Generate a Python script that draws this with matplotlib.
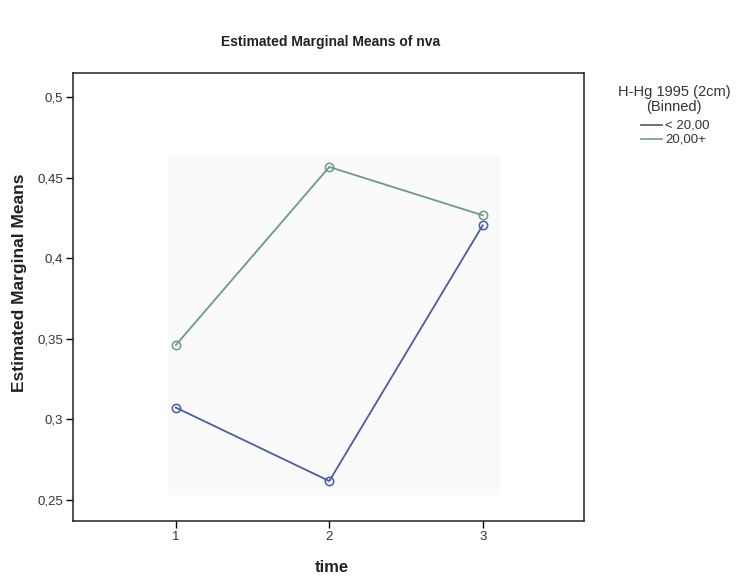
import numpy as np
import matplotlib
matplotlib.use("Agg")
import matplotlib.pyplot as plt
from matplotlib.lines import Line2D

plt.rcParams['font.family'] = ['Liberation Sans', 'DejaVu Sans']

# estimated marginal means of nva per time point
time = [1, 2, 3]
mean_low = [0.3074, 0.2618, 0.4205]    # H-Hg < 20,00
mean_high = [0.3462, 0.4567, 0.4267]   # H-Hg 20,00+
yticks = [0.25, 0.3, 0.35, 0.4, 0.45, 0.5]
ytick_labels = ['0,25', '0,3', '0,35', '0,4', '0,45', '0,5']
group_labels = ['< 20,00', '20,00+']

col_low = '#4a5ca6'
col_high = '#6b9c86'

fig = plt.figure(figsize=(7.43, 5.83), dpi=100)
ax = fig.add_axes([0.0983, 0.1063, 0.6877, 0.7685])

# faint backdrop behind the lines
ax.add_patch(plt.Rectangle((0.226, 0.151), 0.447, 0.583, transform=fig.transFigure,
                           facecolor='#fafafa', edgecolor='none', zorder=0))

ax.plot(time, mean_low, color=col_low, lw=1.3, marker='o', ms=6,
        mfc='none', mec=col_low, mew=1.1, zorder=3)
ax.plot(time, mean_high, color=col_high, lw=1.3, marker='o', ms=6,
        mfc='none', mec=col_high, mew=1.1, zorder=3)

ax.set_xlim(0.33, 3.66)
ax.set_ylim(0.237, 0.515)
ax.set_xticks(time)
ax.set_xticklabels([str(t) for t in time])
ax.set_yticks(yticks)
ax.set_yticklabels(ytick_labels)
ax.tick_params(axis='both', direction='out', length=5, width=1, labelsize=9.5,
               pad=2, labelcolor='#333333')
for s in ax.spines.values():
    s.set_linewidth(1.1)
    s.set_color('#222222')

fig.text(331 / 743, 1 - 42 / 583, 'Estimated Marginal Means of nva', ha='center', va='center',
         fontsize=10, fontweight='bold', color='#222222')
fig.text(20 / 743, 1 - 283 / 583, 'Estimated Marginal Means', rotation=90, ha='center',
         va='center', fontsize=12.5, fontweight='bold', color='#222222')
fig.text(332 / 743, 1 - 568 / 583, 'time', ha='center', va='center',
         fontsize=12, fontweight='bold', color='#222222')

# legend
fig.text(674 / 743, 1 - 92 / 583, 'H-Hg 1995 (2cm)', ha='center', va='center',
         fontsize=10.5, color='#333333')
fig.text(674 / 743, 1 - 107 / 583, '(Binned)', ha='center', va='center',
         fontsize=10.5, color='#333333')
leg_cols = ['#555555', col_high]
for k, (lab, c) in enumerate(zip(group_labels, leg_cols)):
    yy = 1 - (125 + 14 * k) / 583
    fig.add_artist(Line2D([641 / 743, 662 / 743], [yy, yy], transform=fig.transFigure,
                          color=c, lw=1.2))
    fig.text(665 / 743, yy, lab, ha='left', va='center', fontsize=9.5, color='#333333')

fig.savefig('out.png', dpi=100)
